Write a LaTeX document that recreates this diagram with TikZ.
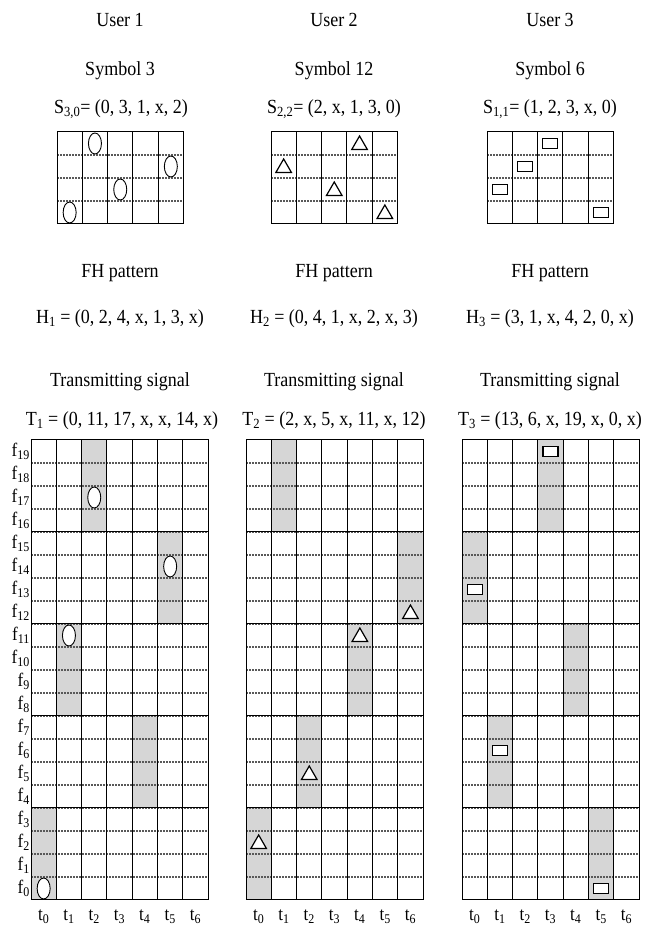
\documentclass[tikz,border=0pt]{standalone}
\usepackage{fontspec}
\setmainfont{Liberation Serif}[FakeStretch=0.9]
\usetikzlibrary{shapes.geometric,positioning}

\begin{document}
\begin{tikzpicture}[
    x=1pt, y=1pt,
    txt/.style={font=\fontsize{20}{22}\selectfont, inner sep=0pt},
    lab/.style={font=\fontsize{19}{19}\selectfont, inner sep=0pt},
    blk/.style={line width=1pt, line cap=rect},
    dl/.style={black!65, line width=1.1pt, dash pattern=on 2pt off 1pt},
    hop/.style={fill=black!16},
    ovl/.style={draw, ellipse, fill=white, line width=0.9pt, inner sep=0pt, minimum width=13pt, minimum height=21pt},
    tri/.style={draw, regular polygon, regular polygon sides=3, fill=white, line width=1.2pt, inner sep=0pt, minimum size=18pt, yshift=-1.5pt},
    rct/.style={draw, rectangle, fill=white, line width=1.3pt, inner sep=0pt, minimum width=15pt, minimum height=10pt}
]
\useasboundingbox (0,0) rectangle (656,928);

% headings
\node[txt] (U1) at (120,908) {User 1};
\node[txt] (U2) at (334,908) {User 2};
\node[txt] (U3) at (550,908) {User 3};
\node[txt] (Y1) at (120,857) {Symbol 3};
\node[txt] (Y2) at (334,857) {Symbol 12};
\node[txt] (Y3) at (550,857) {Symbol 6};
\node[txt] (S1) at (121,819) {S\textsubscript{3,0}= (0, 3, 1, x, 2)};
\node[txt] (S2) at (334,819) {S\textsubscript{2,2}= (2, x, 1, 3, 0)};
\node[txt] (S3) at (550,819) {S\textsubscript{1,1}= (1, 2, 3, x, 0)};

\node[txt] (P1) at (120,654.5) {FH pattern};
\node[txt] (P2) at (334,654.5) {FH pattern};
\node[txt] (P3) at (550,654.5) {FH pattern};
\node[txt] (H1) at (120,609.5) {H\textsubscript{1} = (0, 2, 4, x, 1, 3, x)};
\node[txt] (H2) at (334,609.5) {H\textsubscript{2} = (0, 4, 1, x, 2, x, 3)};
\node[txt] (H3) at (550,609.5) {H\textsubscript{3} = (3, 1, x, 4, 2, 0, x)};

\node[txt] (R1) at (120,546.5) {Transmitting signal};
\node[txt] (R2) at (334,546.5) {Transmitting signal};
\node[txt] (R3) at (550,546.5) {Transmitting signal};
\node[txt] (T1) at (122,507) {T\textsubscript{1} = (0, 11, 17, x, x, 14, x)};
\node[txt] (T2) at (334,507) {T\textsubscript{2} = (2, x, 5, x, 11, x, 12)};
\node[txt] (T3) at (550,507) {T\textsubscript{3} = (13, 6, x, 19, x, 0, x)};

% symbol grids
\foreach \gx in {57,271,487}{
  \begin{scope}[shift={(\gx pt,704pt)}, x=25.3pt, y=23pt]
    \foreach \r in {1,2,3} \draw[dl] (0,\r) -- (5,\r);
    \draw[blk] (0,0) rectangle (5,4);
    \foreach \c in {1,...,4} \draw[blk] (\c,0) -- (\c,4);
  \end{scope}
}
\begin{scope}[shift={(57pt,704pt)}, x=25.3pt, y=23pt]
  \foreach \c/\r in {0/0,1/3,2/1,4/2} \node[ovl] (so\c) at (\c+0.5,\r+0.5) {};
\end{scope}
\begin{scope}[shift={(271pt,704pt)}, x=25.3pt, y=23pt]
  \foreach \c/\r in {0/2,2/1,3/3,4/0} \node[tri] (st\c) at (\c+0.5,\r+0.5) {};
\end{scope}
\begin{scope}[shift={(487pt,704pt)}, x=25.3pt, y=23pt]
  \foreach \c/\r in {0/1,1/2,2/3,4/0} \node[rct] (sr\c) at (\c+0.5,\r+0.5) {};
\end{scope}

% hopping bands
\begin{scope}[shift={(31pt,28pt)}, x=25.3pt, y=23pt]
  \foreach \c/\b in {0/0,1/2,2/4,4/1,5/3} \fill[hop] (\c,4*\b) rectangle ++(1,4);
\end{scope}
\begin{scope}[shift={(246pt,28pt)}, x=25.3pt, y=23pt]
  \foreach \c/\b in {0/0,1/4,2/1,4/2,6/3} \fill[hop] (\c,4*\b) rectangle ++(1,4);
\end{scope}
\begin{scope}[shift={(462pt,28pt)}, x=25.3pt, y=23pt]
  \foreach \c/\b in {0/3,1/1,3/4,4/2,5/0} \fill[hop] (\c,4*\b) rectangle ++(1,4);
\end{scope}

% time-frequency grids
\foreach \gx in {31,246,462}{
  \begin{scope}[shift={(\gx pt,28pt)}, x=25.3pt, y=23pt]
    \foreach \r in {1,...,19} \draw[dl] (0,\r) -- (7,\r);
    \foreach \r in {0,4,...,20} \draw[blk] (0,\r) -- (7,\r);
    \foreach \c in {0,...,7} \draw[blk] (\c,0) -- (\c,20);
    \foreach \c in {0,...,6} \node[lab] (t\gx-\c) at (\c+0.5,-0.72) {t\textsubscript{\c}};
  \end{scope}
}

% frequency labels and transmitted chips
\begin{scope}[shift={(31pt,28pt)}, x=25.3pt, y=23pt]
  \foreach \f in {0,...,19} \node[lab, anchor=east] (f\f) at (-0.04,\f+0.5) {f\textsubscript{\f}};
  \foreach \c/\f in {0/0,1/11,2/17,5/14} \node[ovl] (o\c) at (\c+0.5,\f+0.5) {};
\end{scope}
\begin{scope}[shift={(246pt,28pt)}, x=25.3pt, y=23pt]
  \foreach \c/\f in {0/2,2/5,4/11,6/12} \node[tri] (d\c) at (\c+0.5,\f+0.5) {};
\end{scope}
\begin{scope}[shift={(462pt,28pt)}, x=25.3pt, y=23pt]
  \foreach \c/\f in {0/13,1/6,3/19,5/0} \node[rct] (r\c) at (\c+0.5,\f+0.5) {};
\end{scope}
\end{tikzpicture}
\end{document}
